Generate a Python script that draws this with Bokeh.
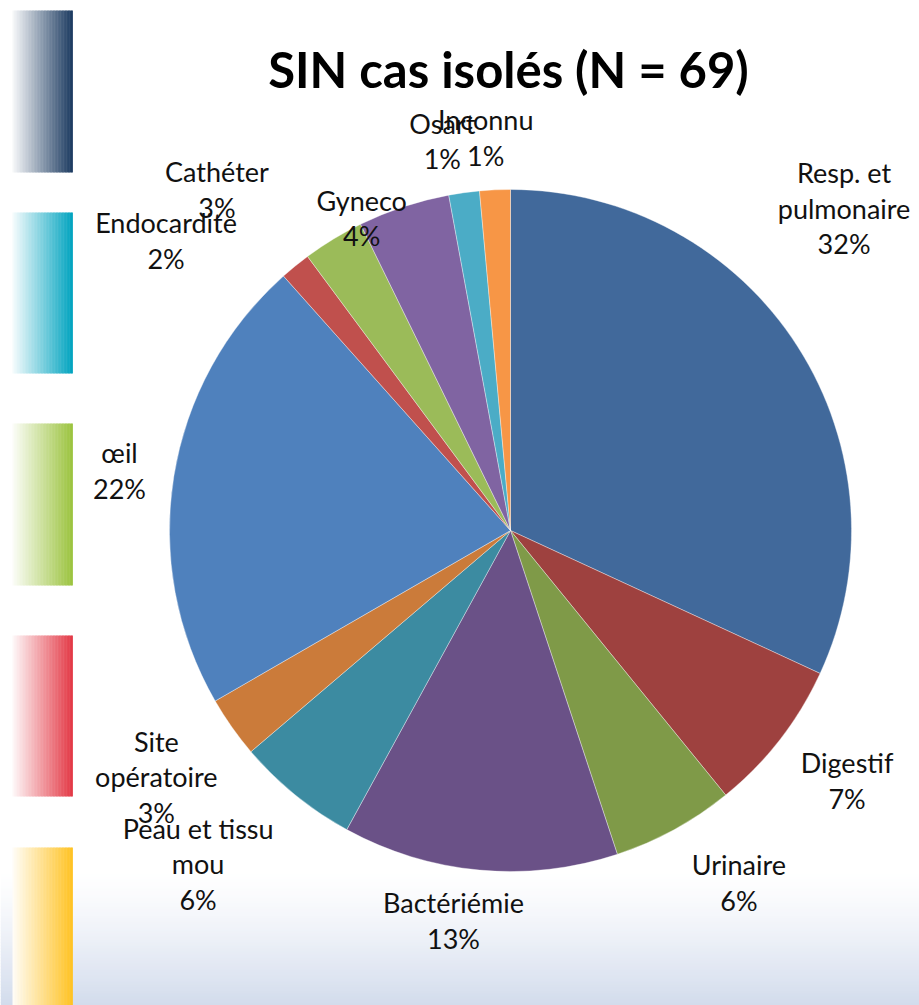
import math
from bokeh.plotting import figure
from bokeh.models import Range1d, ColumnDataSource
from bokeh.core.properties import value
from bokeh.embed import file_html
from bokeh.resources import INLINE

# ---------------- data ----------------
title = "SIN cas isolés (N = 69)"
categories = ["Resp. et\npulmonaire", "Digestif", "Urinaire", "Bactériémie",
              "Peau et tissu\nmou", "Site\nopératoire", "œil", "Endocardite",
              "Cathéter", "Gyneco", "Osart", "Inconnu"]
counts = [22, 5, 4, 9, 4, 2, 15, 1, 2, 3, 1, 1]
pct_labels = ["32%", "7%", "6%", "13%", "6%", "3%", "22%", "2%", "3%", "4%", "1%", "1%"]
colors = ["#41699B", "#9E413F", "#7F9A48", "#6A5187", "#3C8BA1", "#CB7B3A",
          "#4F81BD", "#C0504D", "#9BBB59", "#8064A2", "#4BACC6", "#F79646"]

# label placement (distance factor from centre, angular nudge in degrees)
lab_dist = [1.36, 1.23, 1.23, 1.155, 1.34, 1.265, 1.16, 1.32, 1.32, 1.015, 1.16, 1.155]
lab_nudge = [-11.4, -1.2, -4.3, 3.1, 4.0, 0.4, -0.4, -10.8, -9.4, -7.2, -2.1, -1.0]

# ---------------- layout ----------------
W, H = 919, 1005
cx, cy, R = 510, 475, 341
FONT = "Lato"

p = figure(width=W, height=H, x_range=Range1d(0, W), y_range=Range1d(0, H),
           output_backend="svg", toolbar_location=None, min_border=0)
p.axis.visible = False
p.grid.visible = False
p.outline_line_color = None
p.background_fill_color = "white"
p.border_fill_color = "white"

def mix(c, t):
    c = c.lstrip("#")
    r, g, b = int(c[0:2], 16), int(c[2:4], 16), int(c[4:6], 16)
    r = round(255 + (r - 255) * t); g = round(255 + (g - 255) * t); b = round(255 + (b - 255) * t)
    return "#%02x%02x%02x" % (r, g, b)

# bottom background gradient
nb = 45
g_top, g_bot = 135, 0
bt, bb, bc = [], [], []
for i in range(nb):
    y0 = g_bot + (g_top - g_bot) * i / nb
    y1 = g_bot + (g_top - g_bot) * (i + 1) / nb
    t = 1 - (i + 0.5) / nb
    bb.append(y0); bt.append(y1 + 0.5); bc.append(mix("#D2DBEC", t ** 1.3))
p.quad(left=0, right=W, bottom=bb, top=bt, fill_color=bc, line_color=None)

# decorative left gradient bars
bar_cols = ["#1B3A60", "#00A3BF", "#9BC33E", "#E33845", "#FFC222"]
bar_y = [(833, 995), (632, 793), (420, 582), (209, 370), (0, 158)]
ns = 40
x0b, x1b = 12, 72
for col, (yb, yt) in zip(bar_cols, bar_y):
    L, Rr, C = [], [], []
    for i in range(ns):
        a = x0b + (x1b - x0b) * i / ns
        b = x0b + (x1b - x0b) * (i + 1) / ns
        L.append(a); Rr.append(b + 0.4)
        C.append(mix(col, 0.03 + 0.97 * (i + 0.5) / ns))
    p.quad(left=L, right=Rr, bottom=yb, top=yt, fill_color=C, line_color=None)

# pie
N = sum(counts)
starts, ends, mids = [], [], []
cum = 0
for c in counts:
    a0 = math.pi / 2 - 2 * math.pi * cum / N
    a1 = math.pi / 2 - 2 * math.pi * (cum + c) / N
    starts.append(a0); ends.append(a1)
    mids.append(2 * math.pi * (cum + c / 2) / N)  # clockwise from top
    cum += c
src = ColumnDataSource(dict(start=starts, end=ends, color=colors))
p.wedge(x=cx, y=cy, radius=R, start_angle="start", end_angle="end", direction="clock",
        fill_color="color", line_color="white", line_width=0.6, line_alpha=0.6, source=src)

# labels
lx, ly, lt = [], [], []
for i, cat in enumerate(categories):
    ang = mids[i] + math.radians(lab_nudge[i])
    d = lab_dist[i] * R
    lx.append(cx + d * math.sin(ang))
    ly.append(cy + d * math.cos(ang))
    lt.append(cat + "\n" + pct_labels[i])
fs = 27
p.text(x=lx, y=ly, text=lt, text_font=value(FONT), text_font_size=f"{fs}px",
       text_align="center", text_baseline="middle", text_color="#111111",
       text_line_height=1.08)

# title
p.text(x=[508], y=[937], text=[title], text_font=value(FONT), text_font_size="49px",
       text_font_style="bold", text_align="center", text_baseline="middle",
       text_color="#000000")

open("out.html", "w").write(file_html(p, INLINE))
